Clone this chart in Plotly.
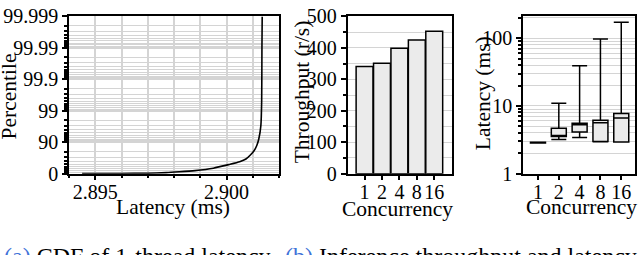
import numpy as np
import plotly.graph_objects as go

# ---------------- data ----------------
# (a) CDF of 1-thread latency
latency_ms = [2.8945, 2.8960, 2.8970, 2.8977, 2.8982, 2.8988, 2.8995, 2.9001, 2.9005,
              2.90074, 2.9009, 2.90105, 2.90115, 2.90123, 2.90131, 2.90134, 2.90135, 2.90136]
percentile = [0.05, 0.8, 3, 7, 12.5, 20, 33, 48.7, 58,
              65.7, 74, 81.3, 87, 92.1, 97.1, 99.5, 99.99, 99.999]
pct_tick_labels = ["0", "90", "99", "99.9", "99.99", "99.999"]
lat_tick_labels = ["2.895", "2.900"]
lat_tick_vals = [2.895, 2.900]

# (b) throughput
concurrency = ["1", "2", "4", "8", "16"]
throughput = [341, 351, 399, 425, 453]

# (c) latency distribution (ms)
lat_min = [2.84, 3.19, 3.42, 2.95, 2.92]
lat_q1 = [2.84, 3.53, 4.13, 2.97, 2.93]
lat_med = [2.87, 3.65, 5.26, 5.65, 6.61]
lat_q3 = [2.90, 4.69, 5.55, 6.15, 7.73]
lat_max = [2.90, 10.9, 39.1, 96.9, 172]

# ---------------- helpers ----------------
W, H = 640, 255
FONT = '"Liberation Serif", "Times New Roman", Times, serif'
GRID = "#d4d4d4"
FILL = "#ebebeb"


def px_x(x):
    return x / W


def px_y(y):
    return (H - y) / H


def nines(p):
    return -np.log10(1 - np.asarray(p, dtype=float) / 100.0)


fig = go.Figure()

# (a) CDF
fig.add_trace(go.Scatter(x=latency_ms, y=nines(percentile), mode="lines",
                         line=dict(color="black", width=1.6, shape="spline", smoothing=0.6),
                         xaxis="x", yaxis="y", showlegend=False))

# (b) bars
fig.add_trace(go.Bar(x=concurrency, y=throughput, marker=dict(color=FILL, line=dict(color="black", width=1.5)),
                     xaxis="x2", yaxis="y2", showlegend=False))

# (c) boxes
fig.add_trace(go.Box(x=concurrency, q1=lat_q1, median=lat_med, q3=lat_q3,
                     lowerfence=lat_min, upperfence=lat_max,
                     fillcolor=FILL, line=dict(color="black", width=1.5),
                     whiskerwidth=1, width=0.72, boxpoints=False,
                     xaxis="x3", yaxis="y3", showlegend=False))

y_dom = [px_y(178), px_y(6)]
tickfont = dict(family=FONT, size=20, color="black")
axis_common = dict(showline=True, linecolor="black", linewidth=1.5, mirror=True,
                   ticks="outside", ticklen=5, tickwidth=1.5, tickcolor="black",
                   tickfont=tickfont, zeroline=False, ticklabeloverflow="allow")
x_extra = dict(ticklabelstandoff=-5)

# minor positions
nines_minor = [d + 1 - np.log10(k) for d in range(5) for k in range(2, 10)]
lat_minor = [round(2.894 + 0.001 * i, 3) for i in range(9)]
log_minor = [k * 10 ** d for d in range(0, 3) for k in range(2, 10) if k * 10 ** d < 215]

fig.update_layout(
    width=W, height=H,
    margin=dict(l=0, r=0, t=0, b=0),
    paper_bgcolor="white", plot_bgcolor="white",
    font=dict(family=FONT, color="black"),
    bargap=0.03,
    xaxis=dict(domain=[px_x(69), px_x(279)], range=[2.894, 2.902],
               tickmode="array", tickvals=lat_tick_vals, ticktext=lat_tick_labels,
               showgrid=True, gridcolor=GRID, gridwidth=2,
               minor=dict(tickmode="array", tickvals=lat_minor, ticks="outside", ticklen=3,
                          tickcolor="black", showgrid=True, gridcolor=GRID, gridwidth=2),
               anchor="y", **axis_common, **x_extra),
    yaxis=dict(domain=y_dom, range=[0, 5],
               tickmode="array", tickvals=list(range(6)), ticktext=pct_tick_labels,
               showgrid=True, gridcolor=GRID, gridwidth=1.5,
               minor=dict(tickmode="array", tickvals=nines_minor, ticks="outside", ticklen=3,
                          tickcolor="black", showgrid=True, gridcolor=GRID, gridwidth=1.2),
               anchor="x", **axis_common),
    xaxis2=dict(domain=[px_x(347.5), px_x(452)], range=[-0.98, 5.02], type="category",
                tickmode="array", tickvals=concurrency, ticktext=concurrency,
                showgrid=False, anchor="y2", **axis_common, **x_extra),
    yaxis2=dict(domain=y_dom, range=[0, 500], dtick=100,
                showgrid=True, gridcolor=GRID, gridwidth=1.2,
                minor=dict(dtick=50, ticks="outside", ticklen=3, tickcolor="black",
                           showgrid=True, gridcolor=GRID, gridwidth=1.2),
                anchor="x2", **axis_common),
    xaxis3=dict(domain=[px_x(523), px_x(635)], range=[-0.72, 4.66], type="category",
                tickmode="array", tickvals=concurrency, ticktext=concurrency,
                showgrid=False, anchor="y3", **axis_common, **x_extra),
    yaxis3=dict(domain=y_dom, type="log", range=[0, 2.32],
                tickmode="array", tickvals=[1, 10, 100], ticktext=["1", "10", "100"],
                showgrid=True, gridcolor=GRID, gridwidth=1.2,
                minor=dict(tickmode="array", tickvals=log_minor, ticks="outside", ticklen=3,
                           tickcolor="black", showgrid=True, gridcolor=GRID, gridwidth=1.2),
                anchor="x3", **axis_common),
)

title_font = dict(family=FONT, size=21.5, color="black")
anns = [
    ("Latency (ms)", 173, 215, 0),
    ("Percentile", 9, 93.5, -90),
    ("Throughput (r/s)", 302, 89, -90),
    ("Concurrency", 397, 217, 0),
    ("Latency (ms)", 483, 90, -90),
    ("Concurrency", 581, 215, 0),
]
for text, x, y, ang in anns:
    fig.add_annotation(text=text, x=px_x(x), y=px_y(y), xref="paper", yref="paper",
                       xanchor="center", yanchor="middle", textangle=ang,
                       showarrow=False, font=title_font)

cap_font = dict(family=FONT, size=24, color="black")
fig.add_annotation(text='<span style="color:#3f72d8">(a)</span> CDF of 1-thread latency',
                   x=px_x(2), y=px_y(252), xref="paper", yref="paper",
                   xanchor="left", yanchor="top", showarrow=False, font=cap_font)
fig.add_annotation(text='<span style="color:#3f72d8">(b)</span> Inference throughput and latency',
                   x=px_x(283), y=px_y(252), xref="paper", yref="paper",
                   xanchor="left", yanchor="top", showarrow=False, font=cap_font)

fig.write_html("out.html", config={"displayModeBar": False},
               post_script="document.body.style.margin='0';document.body.style.padding='0';")
